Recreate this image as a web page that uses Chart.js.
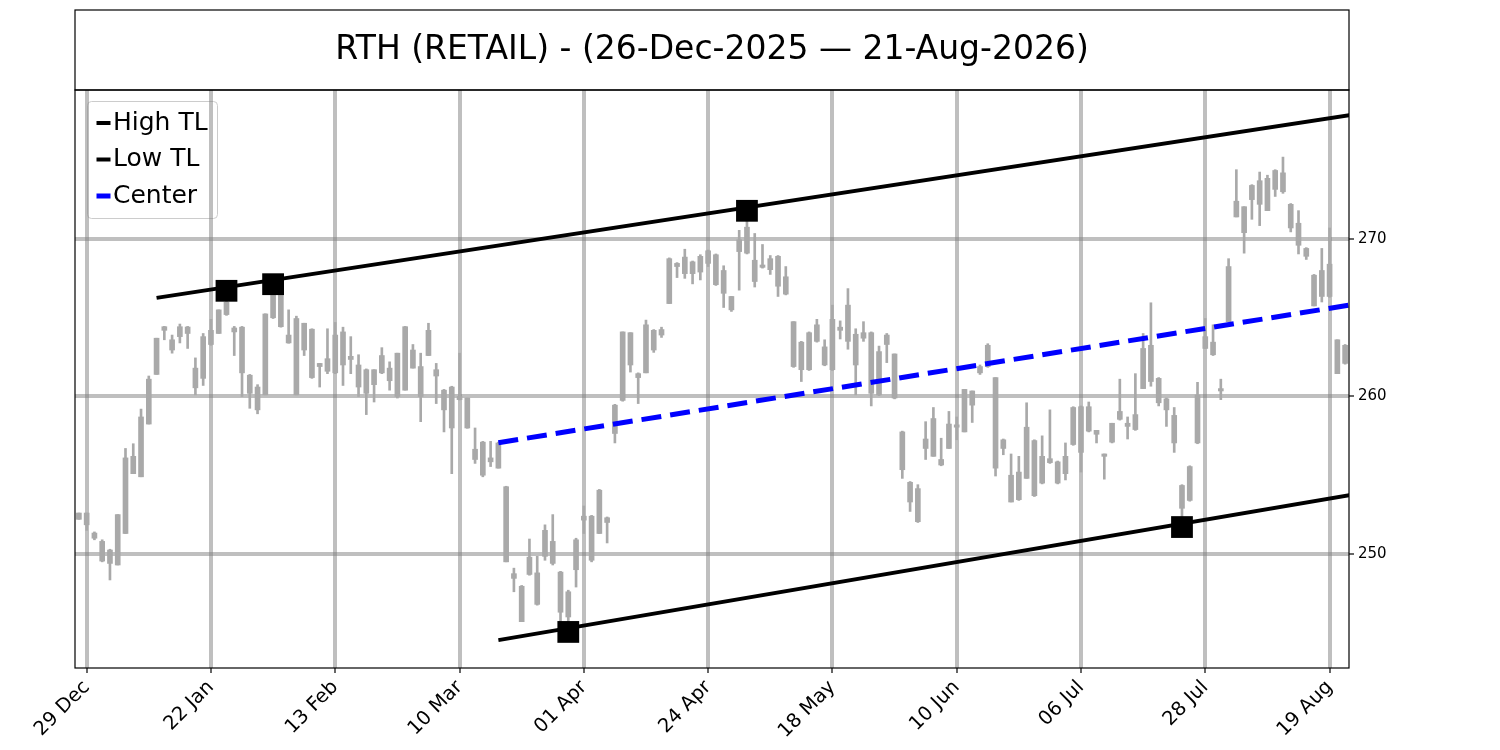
<!DOCTYPE html>
<html>
<head>
<meta charset="utf-8">
<title>RTH (RETAIL)</title>
<script src="https://cdn.jsdelivr.net/npm/chart.js@4.4.1/dist/chart.umd.min.js"></script>
<style>
    html, body { margin: 0; padding: 0; background: #ffffff; }
    #wrap { width: 1500px; height: 750px; }
</style>
</head>
<body>
<div id="wrap"><canvas id="rthChart"></canvas></div>
<script>
// RTH daily bars, one per trading day (index 0 = 26 Dec 2025)
const high = [252.6,252.6,251.4,250.9,250.3,252.5,256.7,257.0,259.2,261.3,
    263.7,264.45,263.9,264.6,264.45,262.45,264.0,264.9,265.5,266.7,
    264.45,264.45,261.4,260.75,265.25,267.14,266.45,265.5,265.1,264.65,
    264.3,262.1,264.3,264.7,264.4,263.8,262.65,261.75,261.7,263.1,
    262.2,262.75,264.45,263.3,262.75,264.65,262.1,260.45,260.65,262.75,
    259.9,258.0,257.15,257.15,257.1,254.3,249.1,248.0,250.95,249.85,
    251.85,252.5,248.9,247.7,251.0,253.05,252.45,254.1,252.35,259.5,
    264.1,264.05,261.5,264.85,264.25,264.4,268.8,268.5,269.35,268.6,
    269.0,269.3,269.05,268.3,266.35,270.55,271.78,270.35,269.65,268.95,
    268.95,268.25,264.75,263.5,264.1,264.9,263.6,265.8,264.8,266.85,
    264.3,264.75,264.1,263.2,264.0,262.7,257.8,254.6,254.4,258.4,
    259.3,257.35,259.05,258.7,260.45,260.35,262.0,263.35,261.2,257.3,
    256.35,256.2,259.6,257.25,257.5,259.15,255.9,257.05,259.35,259.4,
    259.65,257.85,256.35,258.3,261.1,258.7,261.45,264.0,265.95,261.2,
    259.9,259.3,254.4,255.6,260.9,264.95,264.55,261.1,268.75,274.4,
    272.05,273.45,274.25,274.05,274.4,275.2,272.25,271.8,269.45,267.75,
    269.4,270.7,263.6,263.3];
const open = [252.6,252.6,251.33,250.8,250.25,249.3,251.3,256.2,254.9,258.25,
    261.4,264.43,263.6,263.8,264.41,261.8,261.15,263.3,264.0,265.2,
    264.35,264.4,261.35,260.6,260.1,265.0,266.44,263.9,264.95,264.65,
    261.2,262.1,261.6,261.5,264.1,262.55,262.0,261.7,261.7,261.5,
    261.8,262.75,260.4,262.95,261.9,262.6,261.7,260.4,260.6,259.8,
    259.9,256.65,257.1,256.1,255.45,254.27,248.75,247.95,248.7,248.8,
    249.85,250.8,248.85,246.0,249.0,252.15,252.4,251.3,252.3,257.65,
    259.75,264.05,261.45,261.5,264.2,263.9,265.9,268.45,267.8,268.55,
    267.9,268.45,269.0,268.0,266.35,269.2,269.1,268.65,268.35,268.05,
    268.9,266.5,264.75,263.45,261.7,263.5,263.15,261.7,264.4,263.5,
    263.95,263.7,264.05,260.1,263.3,262.7,257.75,254.55,252.05,257.3,
    256.2,256.0,256.7,258.2,257.75,260.35,261.5,261.9,261.2,256.7,
    255.0,253.45,254.8,253.7,256.2,256.05,255.85,255.1,256.95,259.35,
    257.8,257.85,256.35,257.1,258.55,258.3,257.9,260.5,263.25,261.15,
    259.85,258.8,252.9,253.4,257.05,263.05,263.45,260.5,264.75,271.4,
    272.05,272.5,272.2,271.8,274.35,273.0,272.2,271.0,269.4,267.7,
    266.35,266.35,263.6,263.25];
const close = [252.2,251.85,251.0,249.55,249.4,252.5,256.1,255.1,258.7,261.1,
    263.7,264.2,262.95,264.43,264.0,260.55,263.8,264.2,265.5,266.0,
    264.1,261.5,260.2,259.15,265.24,266.44,264.43,263.4,260.1,262.95,
    264.27,261.9,262.4,263.9,262.0,262.35,260.6,260.2,260.75,262.6,
    261.0,260.0,264.43,261.8,260.0,264.2,261.3,259.15,258.0,260.0,
    258.0,256.0,255.0,255.85,257.05,249.5,248.45,245.7,249.8,246.8,
    251.5,249.4,246.3,247.6,250.9,252.4,249.6,254.05,252.0,259.45,
    264.1,262.0,261.2,264.55,262.95,264.25,268.75,268.25,268.85,267.8,
    268.9,269.25,267.1,266.55,265.5,269.95,270.75,267.3,268.2,268.75,
    267.0,267.6,261.9,261.7,264.05,264.55,262.0,264.9,264.2,265.8,
    262.0,264.05,260.2,262.85,263.9,259.9,255.35,253.3,254.15,256.7,
    258.6,255.65,258.25,258.05,260.45,259.45,261.9,263.25,255.45,257.25,
    253.3,255.2,258.05,257.2,254.5,255.8,254.5,256.2,259.3,256.45,
    259.35,257.6,256.2,258.3,259.05,258.1,258.85,263.05,260.95,259.6,
    259.15,257.05,254.35,255.55,260.1,263.8,262.65,260.35,268.25,272.4,
    270.4,273.4,273.7,273.85,273.15,274.2,270.7,269.6,268.9,265.75,
    268.0,268.4,261.45,262.1];
const low = [252.2,251.5,250.9,249.5,248.35,249.3,251.3,255.1,254.9,258.25,
    261.4,263.6,262.75,263.4,263.05,260.1,260.7,263.25,264.0,265.15,
    262.6,260.0,259.25,258.9,260.1,264.95,264.4,263.38,260.1,262.6,
    261.15,260.6,261.45,261.45,260.7,261.45,260.0,258.85,259.65,261.45,
    260.4,259.9,260.4,261.8,258.4,262.6,259.55,257.75,255.1,259.78,
    257.98,255.75,254.9,255.55,255.45,249.5,247.6,245.7,248.65,246.75,
    249.6,249.3,245.6,245.05,247.9,251.3,249.5,251.3,250.7,257.05,
    259.7,261.55,259.55,261.5,262.8,263.75,265.9,267.55,267.5,267.15,
    267.4,268.25,267.05,265.65,265.4,266.75,269.05,266.95,268.15,267.75,
    266.35,266.45,261.85,260.95,261.65,263.45,261.95,261.65,263.65,263.0,
    260.1,263.5,259.4,260.05,262.15,259.85,254.8,252.7,252.0,256.0,
    256.2,255.6,256.7,257.25,257.75,258.35,261.4,261.85,254.95,256.3,
    253.3,253.4,254.8,253.65,254.45,255.75,254.45,254.7,256.9,255.2,
    257.75,257.05,254.75,257.05,258.5,257.3,257.85,260.5,260.65,259.4,
    258.1,256.45,251.78,253.35,257.0,263.05,262.6,259.8,264.75,271.4,
    269.1,271.25,270.85,271.8,272.7,272.9,270.45,269.05,268.7,265.75,
    266.0,266.3,261.45,262.05];

// x-axis ticks (bar index -> date label)
const tickPos = [1, 17, 33, 49, 65, 81, 97, 113, 129, 145, 161];
const tickLabels = ['29 Dec', '22 Jan', '13 Feb', '10 Mar', '01 Apr', '24 Apr',
    '18 May', '10 Jun', '06 Jul', '28 Jul', '19 Aug'];
const yTicks = [250, 260, 270];

// trend lines (start / end points)
const highTLx = [10, 164];
const highTLy = [266.26, 277.9];
const lowTLx = [54, 164];
const lowTLy = [244.53, 253.77];
const centerX = [54, 164];
const centerY = [257.06, 265.84];

// pivot markers
const pivotX = [19, 25, 86, 63, 142];
const pivotY = [266.71, 267.13, 271.79, 245.05, 251.71];

const toPoints = (xs, ys) => xs.map((x, i) => ({ x: x, y: ys[i] }));

const CANDLE = '#a9a9a9';
const GRID = 'rgba(128, 128, 128, 0.5)';

// short line used as legend handle, drawn at the right end of a small canvas
function legendHandle(color, thickness) {
    const c = document.createElement('canvas');
    c.width = 40;
    c.height = 8;
    const g = c.getContext('2d');
    g.fillStyle = color;
    g.fillRect(23, (8 - thickness) / 2, 14, thickness);
    return c;
}

// boxes around the title and the plot, plus the legend frame
const framePlugin = {
    id: 'frames',
    afterLayout(chart) {
        const lg = chart.legend;
        const ca = chart.chartArea;
        if (lg) {
            lg.left = ca.left;
            lg.top = ca.top;
            lg.right = ca.left + lg.width;
            lg.bottom = ca.top + lg.height;
        }
        // y scale is laid out with zero width, let its labels spill right
        if (chart.scales.y) chart.scales.y.right = chart.width;
    },
    beforeDraw(chart) {
        const ctx = chart.ctx;
        const ca = chart.chartArea;
        ctx.save();
        ctx.beginPath();
        ctx.roundRect(ca.left + 12.5, ca.top + 11.5, 130, 117, 4);
        ctx.fillStyle = 'rgba(255, 255, 255, 0.8)';
        ctx.fill();
        ctx.lineWidth = 1;
        ctx.strokeStyle = '#cccccc';
        ctx.stroke();
        ctx.restore();
    },
    afterDraw(chart) {
        const ctx = chart.ctx;
        const ca = chart.chartArea;
        ctx.save();
        ctx.strokeStyle = '#000000';
        ctx.lineWidth = 1.2;
        ctx.strokeRect(ca.left, ca.top, ca.right - ca.left, ca.bottom - ca.top);
        ctx.strokeRect(ca.left, 10, ca.right - ca.left, ca.top - 10);
        ctx.restore();
    }
};

document.addEventListener('DOMContentLoaded', function() {
    initializeRthChart();
});

function initializeRthChart() {
    const ctx = document.getElementById('rthChart');
    if (!ctx) return;

    Chart.defaults.font.family = "'DejaVu Sans', sans-serif";
    Chart.defaults.color = '#000000';

    const wickData = high.map((h, i) => ({ x: i, y: [low[i], h] }));
    const bodyData = open.map((o, i) => ({ x: i, y: [o, close[i]] }));
    const handles = {
        'High TL': legendHandle('#000000', 4),
        'Low TL': legendHandle('#000000', 4),
        'Center': legendHandle('#0000ff', 5)
    };

    const config = {
        type: 'bar',
        data: {
            datasets: [
                {
                    type: 'line',
                    label: 'High TL',
                    data: toPoints(highTLx, highTLy),
                    borderColor: '#000000',
                    backgroundColor: '#000000',
                    borderWidth: 4,
                    pointRadius: 0,
                    clip: 0,
                    order: 1
                },
                {
                    type: 'line',
                    label: 'Low TL',
                    data: toPoints(lowTLx, lowTLy),
                    borderColor: '#000000',
                    backgroundColor: '#000000',
                    borderWidth: 4,
                    pointRadius: 0,
                    clip: 0,
                    order: 1
                },
                {
                    type: 'line',
                    label: 'Center',
                    data: toPoints(centerX, centerY),
                    borderColor: '#0000ff',
                    backgroundColor: '#0000ff',
                    borderWidth: 5,
                    borderDash: [20, 9],
                    pointRadius: 0,
                    clip: 0,
                    order: 1
                },
                {
                    type: 'line',
                    label: 'Pivots',
                    data: toPoints(pivotX, pivotY),
                    showLine: false,
                    pointStyle: 'rect',
                    pointRadius: 15.4,
                    pointBackgroundColor: '#000000',
                    pointBorderWidth: 0,
                    order: 0
                },
                {
                    label: 'Body',
                    data: bodyData,
                    backgroundColor: CANDLE,
                    borderWidth: 0,
                    barThickness: 5,
                    minBarLength: 1.5,
                    grouped: false,
                    order: 2
                },
                {
                    label: 'Wick',
                    data: wickData,
                    backgroundColor: CANDLE,
                    borderWidth: 0,
                    barThickness: 2,
                    grouped: false,
                    order: 3
                }
            ]
        },
        options: {
            responsive: true,
            maintainAspectRatio: false,
            animation: false,
            events: [],
            layout: {
                padding: { left: 75, right: 151, top: 10, bottom: 0 }
            },
            plugins: {
                title: {
                    display: true,
                    text: 'RTH (RETAIL) - (26-Dec-2025 \u2014 21-Aug-2026)',
                    color: '#000000',
                    font: { size: 33, weight: 'normal' },
                    padding: { top: 20.2, bottom: 20.2 }
                },
                legend: {
                    position: 'chartArea',
                    align: 'start',
                    title: {
                        display: true,
                        text: '',
                        padding: { top: 9, bottom: 0 },
                        font: { size: 1, lineHeight: 0 }
                    },
                    labels: {
                        color: '#000000',
                        font: { size: 25 },
                        usePointStyle: true,
                        pointStyleWidth: 14,
                        boxHeight: 4,
                        padding: 11.5,
                        generateLabels: function(chart) {
                            const items = Chart.defaults.plugins.legend.labels.generateLabels(chart);
                            return items
                                .filter(item => handles[item.text])
                                .map(item => Object.assign(item, {
                                    pointStyle: handles[item.text],
                                    rotation: 0,
                                    lineWidth: 0,
                                    lineDash: []
                                }));
                        }
                    }
                },
                tooltip: { enabled: false }
            },
            scales: {
                x: {
                    type: 'linear',
                    min: -0.5,
                    max: 163.5,
                    offset: false,
                    afterBuildTicks: function(scale) {
                        scale.ticks = tickPos.map(v => ({ value: v }));
                    },
                    afterFit: function(scale) {
                        scale.height = 82;
                    },
                    ticks: {
                        autoSkip: false,
                        minRotation: 45,
                        maxRotation: 45,
                        padding: 3,
                        color: '#000000',
                        font: { size: 19.5 },
                        callback: function(value, index) {
                            return tickLabels[index];
                        }
                    },
                    grid: {
                        offset: false,
                        color: GRID,
                        lineWidth: 4,
                        tickColor: '#000000',
                        tickWidth: 1.2,
                        tickLength: 5
                    },
                    border: { display: false }
                },
                y: {
                    type: 'linear',
                    position: 'right',
                    min: 242.76,
                    max: 279.46,
                    beginAtZero: false,
                    afterBuildTicks: function(scale) {
                        scale.ticks = yTicks.map(v => ({ value: v }));
                    },
                    afterFit: function(scale) {
                        scale.width = 0;
                    },
                    ticks: {
                        padding: 4,
                        color: '#000000',
                        font: { size: 15 }
                    },
                    grid: {
                        color: GRID,
                        lineWidth: 4,
                        tickColor: '#000000',
                        tickWidth: 1.2,
                        tickLength: 5
                    },
                    border: { display: false }
                }
            }
        },
        plugins: [framePlugin]
    };

    new Chart(ctx, config);
}
</script>
</body>
</html>
